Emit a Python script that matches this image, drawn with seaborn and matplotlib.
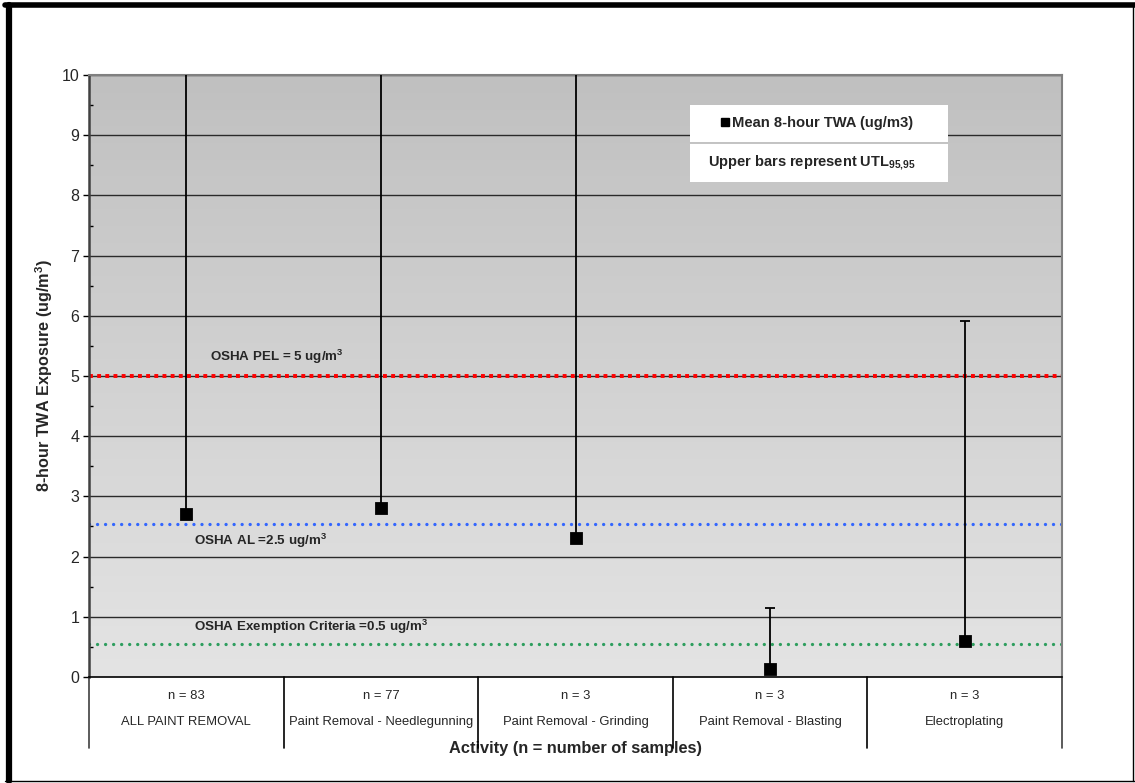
# twa exposure by activity, mean with upper tolerance limit bars

import matplotlib.pyplot as plt
import numpy as np
import pandas as pd
import seaborn as sns
from matplotlib.colors import LinearSegmentedColormap
from matplotlib.lines import Line2D
from matplotlib.patches import Rectangle
from matplotlib.transforms import blended_transform_factory

# data
activities = ['ALL PAINT REMOVAL', 'Paint Removal - Needlegunning', 'Paint Removal - Grinding',
              'Paint Removal - Blasting', 'Electroplating']
n_samples = [83, 77, 3, 3, 3]
mean_twa = [2.71, 2.81, 2.31, 0.13, 0.59]
utl_95_95 = [12.0, 12.0, 12.0, 1.15, 5.92]  # first three run past the top of the axis

limit_values = [5.0, 2.54, 0.55]
limit_labels = ['OSHA PEL = 5 ug/m$^{3}$', 'OSHA AL =2.5 ug/m$^{3}$',
                'OSHA Exemption Criteria =0.5 ug/m$^{3}$']
y_ticks = list(range(0, 11))

sns.set_style('white')
plt.rcParams['font.family'] = ['Liberation Sans', 'DejaVu Sans']
plt.rcParams['mathtext.fontset'] = 'custom'
plt.rcParams['mathtext.rm'] = 'Liberation Sans'
plt.rcParams['mathtext.bf'] = 'Liberation Sans:bold'

df = pd.DataFrame({'activity': activities, 'n': n_samples, 'mean': mean_twa, 'utl': utl_95_95})

fig = plt.figure(figsize=(11.35, 7.83), dpi=100)
ax = fig.add_axes([0.0784, 0.1354, 0.8573, 0.7688])

# gray gradient background of the plot area
grad = LinearSegmentedColormap.from_list('bg', ['#e4e4e4', '#c0c0c0'])
ax.imshow(np.linspace(0, 1, 256).reshape(-1, 1), cmap=grad, origin='lower',
          extent=[-0.5, 4.5, 0, 10], aspect='auto', zorder=0)

# horizontal gridlines at every integer
for t in y_ticks[1:]:
    ax.axhline(t, color='#2a2a2a', lw=1.0, zorder=1)

# exposure limit lines
ax.axhline(limit_values[0], color='#ff0000', lw=2.8, ls=(0, (1.0, 1.1)), dash_capstyle='butt', zorder=2.5)
ax.axhline(limit_values[1], color='#3366ff', lw=2.4, ls=(0, (0.01, 2.4)), dash_capstyle='round', zorder=2)
ax.axhline(limit_values[2], color='#2e9e5e', lw=2.4, ls=(0, (0.01, 2.4)), dash_capstyle='round', zorder=2)

label_kw = dict(fontsize=9.6, fontweight='bold', zorder=5)
ax.text(0.12, limit_values[0] + 0.16, limit_labels[0].replace('$^{3}$', '$^{\\mathbf{3}}$'), va='bottom', **label_kw)
ax.text(0.04, limit_values[1] - 0.12, limit_labels[1].replace('$^{3}$', '$^{\\mathbf{3}}$'), va='top', **label_kw)
ax.text(0.04, limit_values[2] + 0.13, limit_labels[2].replace('$^{3}$', '$^{\\mathbf{3}}$'), va='bottom', **label_kw)

# upper bars (utl 95,95) then the mean markers
x_pos = np.arange(len(df))
ax.errorbar(x_pos, df['mean'], yerr=[np.zeros(len(df)), df['utl'] - df['mean']], fmt='none',
            ecolor='black', elinewidth=1.3, capsize=3.5, capthick=1.3, zorder=3)
sns.pointplot(data=df, x='activity', y='mean', linestyle='none', markers='s', color='black',
              markersize=7, errorbar=None, ax=ax, zorder=4)

ax.set_xlim(-0.5, 4.5)
ax.set_ylim(0, 10)
ax.set_yticks(y_ticks)
ax.set_yticks(np.arange(0.5, 10, 1.0), minor=True)
ax.tick_params(axis='y', which='major', direction='out', length=4, width=1, color='black',
               labelsize=11.5, pad=3, left=True)
ax.tick_params(axis='y', which='minor', direction='in', length=3, width=1, color='black', left=True)
ax.set_xticks([])

for side in ['top', 'right']:
    ax.spines[side].set_color('#808080')
    ax.spines[side].set_linewidth(1.5)
ax.spines['left'].set_color('#404040')
ax.spines['left'].set_linewidth(1.8)
ax.spines['bottom'].set_color('black')
ax.spines['bottom'].set_linewidth(1.2)

# category table under the axis
trans = blended_transform_factory(ax.transData, ax.transAxes)
for i, row in df.iterrows():
    ax.text(i, -0.0316, f"n = {row['n']}", transform=trans, ha='center', va='center', fontsize=9.4)
    ax.text(i, -0.0748, row['activity'], transform=trans, ha='center', va='center', fontsize=9.4)
for xb in [-0.5, 0.5, 1.5, 2.5, 3.5, 4.5]:
    c = '#404040' if xb in (-0.5, 4.5) else 'black'
    ax.add_line(Line2D([xb, xb], [0, -0.118], transform=trans, color=c, lw=1.2, clip_on=False))

ax.set_xlabel('Activity (n = number of samples)', fontsize=11.8, fontweight='bold')
ax.xaxis.set_label_coords(0.5, -0.118)
ax.xaxis.label.set_va('center')
ax.set_ylabel('8-hour TWA Exposure (ug/m$^{\\mathbf{3}}$)', fontsize=11.7, fontweight='bold')
ax.yaxis.set_label_coords(-0.046, 0.5)
ax.yaxis.label.set_va('center')

# legend boxes
ax.add_patch(Rectangle((0.618, 0.889), 0.265, 0.061, transform=ax.transAxes,
                       facecolor='white', edgecolor='none', zorder=6))
ax.add_patch(Rectangle((0.618, 0.822), 0.265, 0.064, transform=ax.transAxes,
                       facecolor='white', edgecolor='none', zorder=6))
handle = Line2D([], [], marker='s', color='black', ls='none', markersize=6)
leg = ax.legend([handle], ['Mean 8-hour TWA (ug/m3)'], loc='center', bbox_to_anchor=(0.747, 0.9195),
                frameon=False, handletextpad=0.1, handlelength=0.8, borderpad=0,
                prop={'size': 10.6, 'weight': 'bold'})
leg.set_zorder(7)
ax.text(0.743, 0.854, 'Upper bars represent UTL$_{\\mathbf{95{,}95}}$', transform=ax.transAxes,
        ha='center', va='center', fontsize=10.5, fontweight='bold', zorder=7)

# outer frame of the chart
fig.add_artist(Line2D([0.004, 1.0], [0.993, 0.993], transform=fig.transFigure, color='black', lw=4))
fig.add_artist(Line2D([0.0075, 0.0075], [0.003, 0.993], transform=fig.transFigure, color='black', lw=4.5))
fig.add_artist(Line2D([0.004, 1.0], [0.003, 0.003], transform=fig.transFigure, color='black', lw=1))
fig.add_artist(Line2D([0.998, 0.998], [0.003, 0.993], transform=fig.transFigure, color='black', lw=1))

fig.savefig('out.png', dpi=100)
